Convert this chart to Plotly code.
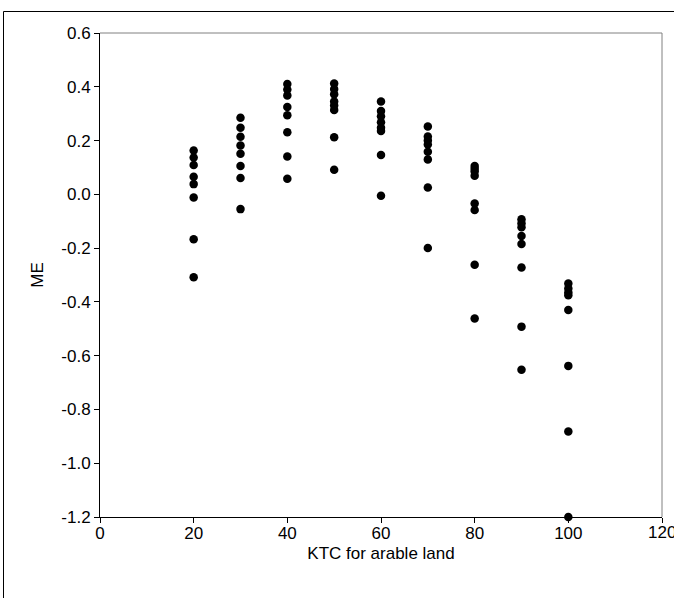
import plotly.graph_objects as go

ktc_levels = [20, 30, 40, 50, 60, 70, 80, 90, 100]
me_values = [
    [0.163, 0.137, 0.109, 0.065, 0.038, -0.012, -0.167, -0.308],   # 20
    [0.285, 0.248, 0.214, 0.182, 0.151, 0.105, 0.061, -0.055],     # 30
    [0.41, 0.39, 0.368, 0.325, 0.294, 0.231, 0.141, 0.058],        # 40
    [0.412, 0.392, 0.372, 0.345, 0.33, 0.314, 0.212, 0.091],       # 50
    [0.345, 0.31, 0.29, 0.268, 0.248, 0.236, 0.146, -0.005],       # 60
    [0.252, 0.215, 0.2, 0.185, 0.158, 0.13, 0.025, -0.2],          # 70
    [0.105, 0.095, 0.085, 0.069, -0.034, -0.058, -0.262, -0.462],  # 80
    [-0.093, -0.108, -0.122, -0.155, -0.185, -0.272, -0.492, -0.652],  # 90
    [-0.332, -0.35, -0.365, -0.375, -0.43, -0.638, -0.882, -1.2],  # 100
]
x_ticks = [0, 20, 40, 60, 80, 100, 120]
y_ticks = [0.6, 0.4, 0.2, 0.0, -0.2, -0.4, -0.6, -0.8, -1.0, -1.2]
y_tick_text = ["%.1f" % v for v in y_ticks]

xs, ys = [], []
for k, vals in zip(ktc_levels, me_values):
    for v in vals:
        xs.append(k)
        ys.append(v)

fig = go.Figure()
fig.add_trace(go.Scatter(x=xs, y=ys, mode="markers",
                         marker=dict(color="black", size=8.5),
                         cliponaxis=False, showlegend=False))

font = dict(family="Liberation Sans, Arial, sans-serif", size=17, color="black")
# last x tick label drawn as an annotation so it is not hidden at the page edge
x_tick_text = [str(v) for v in x_ticks[:-1]] + [""]
fig.update_layout(
    width=674, height=598,
    margin=dict(l=100, r=12, t=33, b=81, autoexpand=False),
    paper_bgcolor="white", plot_bgcolor="white",
    font=font,
    xaxis=dict(range=[0, 120], tickvals=x_ticks, ticktext=x_tick_text,
               ticks="outside", ticklen=5, ticklabelstandoff=-4,
               tickcolor="black", showline=True, linecolor="black", linewidth=1,
               showgrid=False, zeroline=False, automargin=False,
               title=dict(text="KTC for arable land", font=font, standoff=4)),
    yaxis=dict(range=[-1.2, 0.6], tickvals=y_ticks, ticktext=y_tick_text,
               ticks="outside", ticklen=5, tickcolor="black", showline=True,
               linecolor="black", linewidth=1, showgrid=False, zeroline=False,
               automargin=False,
               title=dict(text="ME", font=font, standoff=13)),
    annotations=[
        dict(x=x_ticks[-1], xref="x", y=0, yref="paper", yshift=-4,
             text=str(x_ticks[-1]), showarrow=False, xanchor="center",
             yanchor="top", font=font),
    ],
    shapes=[
        dict(type="line", xref="paper", yref="paper", x0=0, x1=1, y0=1, y1=1,
             line=dict(color="#808080", width=1)),
        dict(type="line", xref="paper", yref="paper", x0=1, x1=1, y0=0, y1=1,
             line=dict(color="#808080", width=1)),
        dict(type="rect", xref="paper", yref="paper",
             x0=(3.5 - 100) / 562, x1=(680 - 100) / 562,
             y0=(517 - 605) / 484, y1=(517 - 11.5) / 484,
             line=dict(color="black", width=1), fillcolor="rgba(0,0,0,0)"),
    ],
)
fig.write_html("out.html")
